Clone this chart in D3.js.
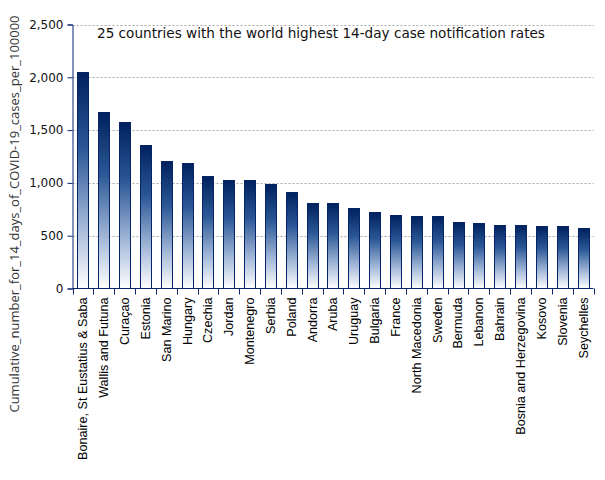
<!DOCTYPE html>
<html>
<head>
<meta charset="utf-8">
<script src="https://cdn.jsdelivr.net/npm/d3@7"></script>
<style>
  body { margin: 0; background: #fff; }
</style>
</head>
<body>
<div id="chart"></div>
<script>
const countries = [
  "Bonaire, St Eustatius & Saba", "Wallis and Futuna", "Curaçao", "Estonia", "San Marino",
  "Hungary", "Czechia", "Jordan", "Montenegro", "Serbia", "Poland", "Andorra", "Aruba",
  "Uruguay", "Bulgaria", "France", "North Macedonia", "Sweden", "Bermuda", "Lebanon",
  "Bahrain", "Bosnia and Herzegovina", "Kosovo", "Slovenia", "Seychelles"
]
const rates = [
  2050, 1676, 1581, 1361, 1212,
  1193, 1070, 1023, 1023, 994, 918, 814, 814,
  767, 720, 700, 682, 682, 631, 622,
  603, 603, 594, 594, 575
]
const yTicks = [0, 500, 1000, 1500, 2000, 2500]
const title = "25 countries with the world highest 14-day case notification rates"
const yTitle = "Cumulative_number_for_14_days_of_COVID-19_cases_per_100000"

const width = 605
const height = 480
const plotLeft = 72.5
const plotRight = 593.5
const plotTop = 24.5
const plotBottom = 288.5
const axisColor = "#0a2472"

const data = countries.map((c, i) => ({ country: c, value: rates[i] }))

const svg = d3.select("#chart")
  .append("svg")
  .attr("width", width)
  .attr("height", height)

const grad = svg.append("defs")
  .append("linearGradient")
  .attr("id", "barFill")
  .attr("x1", 0).attr("y1", 0)
  .attr("x2", 0).attr("y2", 1)
grad.append("stop").attr("offset", "0%").attr("stop-color", "#00215e")
grad.append("stop").attr("offset", "35%").attr("stop-color", "#2b5796")
grad.append("stop").attr("offset", "70%").attr("stop-color", "#9fb5d6")
grad.append("stop").attr("offset", "100%").attr("stop-color", "#ffffff")

const x = d3.scaleBand()
  .domain(countries)
  .range([plotLeft, plotRight])
  .paddingInner(0.47)
  .paddingOuter(0.235)

const y = d3.scaleLinear()
  .domain([0, 2500])
  .range([plotBottom, plotTop])

// grid
svg.append("g")
  .selectAll("line")
  .data(yTicks.filter(d => d > 0))
  .join("line")
  .attr("x1", plotLeft)
  .attr("x2", plotRight)
  .attr("y1", d => Math.round(y(d)) + 0.5)
  .attr("y2", d => Math.round(y(d)) + 0.5)
  .attr("stroke", "#a8a8a8")
  .attr("stroke-dasharray", "2,2")

// bars
svg.append("g")
  .selectAll("rect")
  .data(data)
  .join("rect")
  .attr("x", d => Math.round(x(d.country)) + 0.5)
  .attr("y", d => Math.round(y(d.value)) + 0.5)
  .attr("width", Math.round(x.bandwidth()))
  .attr("height", d => plotBottom - Math.round(y(d.value)) - 0.5)
  .attr("fill", "url(#barFill)")
  .attr("stroke", "#06246a")
  .attr("stroke-width", 1)

// y axis
const yAxis = svg.append("g")
  .attr("transform", `translate(${plotLeft},0)`)
  .call(d3.axisLeft(y).tickValues(yTicks).tickFormat(d3.format(",")).tickSize(5).tickPadding(4))
yAxis.select(".domain").attr("stroke", axisColor)
yAxis.selectAll(".tick line").attr("stroke", axisColor)
yAxis.selectAll("text")
  .attr("font-family", "DejaVu Sans")
  .attr("font-size", 12)
  .attr("fill", "#111")

// x axis, ticks on band edges
const xAxis = svg.append("g")
  .attr("transform", `translate(0,${plotBottom})`)
xAxis.append("line")
  .attr("x1", plotLeft).attr("x2", plotRight)
  .attr("stroke", axisColor)
xAxis.selectAll(".edge")
  .data(countries.concat(["end"]))
  .join("line")
  .attr("class", "edge")
  .attr("x1", (d, i) => Math.round(plotLeft + i * x.step()) + 0.5)
  .attr("x2", (d, i) => Math.round(plotLeft + i * x.step()) + 0.5)
  .attr("y1", 0)
  .attr("y2", 6)
  .attr("stroke", axisColor)
xAxis.selectAll("text")
  .data(countries)
  .join("text")
  .attr("transform", d => `translate(${x(d) + x.bandwidth() / 2},9) rotate(-90)`)
  .attr("text-anchor", "end")
  .attr("dy", "0.35em")
  .attr("font-family", "Liberation Sans")
  .attr("font-size", 12.6)
  .attr("fill", "#000")
  .text(d => d)

// titles
svg.append("text")
  .attr("x", 97)
  .attr("y", 38)
  .attr("font-family", "DejaVu Sans")
  .attr("font-size", 13.6)
  .attr("fill", "#111")
  .text(title)

svg.append("text")
  .attr("transform", "translate(19,214) rotate(-90)")
  .attr("text-anchor", "middle")
  .attr("font-family", "Open Sans")
  .attr("font-size", 13)
  .attr("fill", "#333")
  .text(yTitle)
</script>
</body>
</html>
